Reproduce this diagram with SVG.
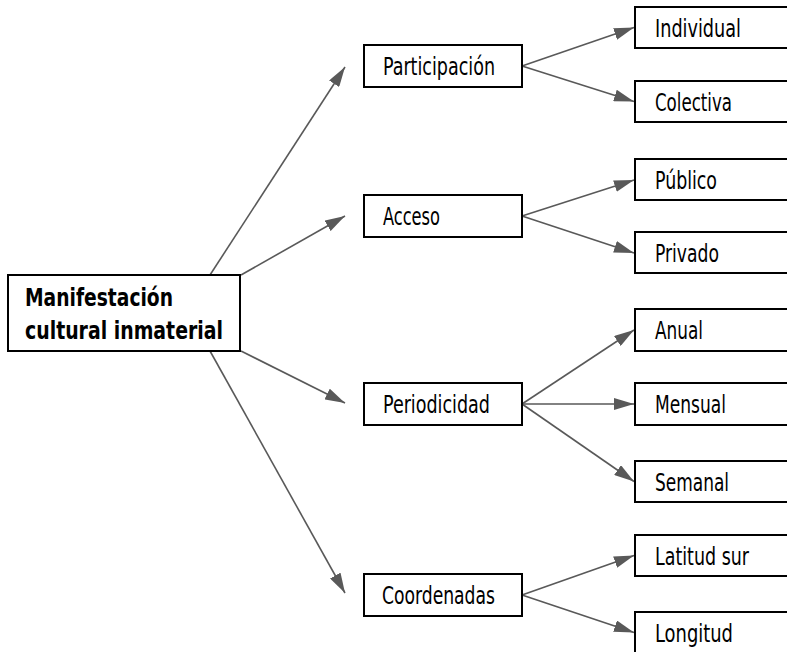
<svg xmlns="http://www.w3.org/2000/svg" width="787" height="652" viewBox="0 0 787 652">
<style>
.box{fill:#fff;stroke:#000;stroke-width:2}
.t{font-family:"DejaVu Sans Condensed","Liberation Sans",sans-serif;font-size:24px;fill:#000}
.b{font-family:"DejaVu Sans Condensed","Liberation Sans",sans-serif;font-size:24px;font-weight:bold;fill:#000}
.c{stroke:#595959;stroke-width:1.6;fill:none;marker-end:url(#ah)}
</style>
<defs>
<marker id="ah" markerUnits="userSpaceOnUse" markerWidth="20" markerHeight="12" refX="20" refY="6" orient="auto">
<path d="M0,0 L20,6 L0,12 z" fill="#595959"/>
</marker>
</defs>
<rect width="787" height="652" fill="#fff"/>
<g id="connectors">
<line class="c" x1="210" y1="275" x2="345" y2="67"/>
<line class="c" x1="241" y1="275" x2="345" y2="216"/>
<line class="c" x1="241" y1="351" x2="345" y2="403"/>
<line class="c" x1="210" y1="351" x2="345" y2="593"/>
<line class="c" x1="522" y1="66" x2="634" y2="27.5"/>
<line class="c" x1="522" y1="66" x2="634" y2="101.5"/>
<line class="c" x1="522" y1="216" x2="634" y2="180"/>
<line class="c" x1="522" y1="216" x2="634" y2="253"/>
<line class="c" x1="522" y1="404" x2="634" y2="330"/>
<line class="c" x1="522" y1="404" x2="634" y2="404"/>
<line class="c" x1="522" y1="404" x2="634" y2="481.5"/>
<line class="c" x1="522" y1="595" x2="634" y2="555.5"/>
<line class="c" x1="522" y1="595" x2="634" y2="632.5"/>
</g>
<g id="main"><rect class="box" x="8" y="275" width="232" height="76"/>
<text class="b" x="25" y="306" textLength="148" lengthAdjust="spacingAndGlyphs">Manifestación</text>
<text class="b" x="25" y="339" textLength="198" lengthAdjust="spacingAndGlyphs">cultural inmaterial</text></g>
<g id="participacion"><rect class="box" x="364" y="45" width="158" height="42"/><text class="t" x="383" y="75" textLength="112" lengthAdjust="spacingAndGlyphs">Participación</text></g>
<g id="acceso"><rect class="box" x="364" y="195" width="158" height="42"/><text class="t" x="383" y="225" textLength="57" lengthAdjust="spacingAndGlyphs">Acceso</text></g>
<g id="periodicidad"><rect class="box" x="364" y="383" width="158" height="42"/><text class="t" x="383" y="413" textLength="107" lengthAdjust="spacingAndGlyphs">Periodicidad</text></g>
<g id="coordenadas"><rect class="box" x="364" y="574" width="158" height="42"/><text class="t" x="382" y="604" textLength="113" lengthAdjust="spacingAndGlyphs">Coordenadas</text></g>
<g id="individual"><rect class="box" x="635" y="7" width="170" height="41"/><text class="t" x="655" y="37" textLength="86" lengthAdjust="spacingAndGlyphs">Individual</text></g>
<g id="colectiva"><rect class="box" x="635" y="81" width="170" height="41"/><text class="t" x="655" y="111" textLength="77" lengthAdjust="spacingAndGlyphs">Colectiva</text></g>
<g id="publico"><rect class="box" x="635" y="159" width="170" height="41"/><text class="t" x="655" y="189" textLength="62" lengthAdjust="spacingAndGlyphs">Público</text></g>
<g id="privado"><rect class="box" x="635" y="232" width="170" height="41"/><text class="t" x="655" y="262" textLength="64" lengthAdjust="spacingAndGlyphs">Privado</text></g>
<g id="anual"><rect class="box" x="635" y="309" width="170" height="42"/><text class="t" x="655" y="339" textLength="48" lengthAdjust="spacingAndGlyphs">Anual</text></g>
<g id="mensual"><rect class="box" x="635" y="383" width="170" height="42"/><text class="t" x="655" y="413" textLength="71" lengthAdjust="spacingAndGlyphs">Mensual</text></g>
<g id="semanal"><rect class="box" x="635" y="461" width="170" height="41"/><text class="t" x="655" y="491" textLength="74" lengthAdjust="spacingAndGlyphs">Semanal</text></g>
<g id="latitud"><rect class="box" x="635" y="535" width="170" height="41"/><text class="t" x="655" y="565" textLength="94" lengthAdjust="spacingAndGlyphs">Latitud sur</text></g>
<g id="longitud"><rect class="box" x="635" y="612" width="170" height="41"/><text class="t" x="655" y="642" textLength="78" lengthAdjust="spacingAndGlyphs">Longitud</text></g>
</svg>
